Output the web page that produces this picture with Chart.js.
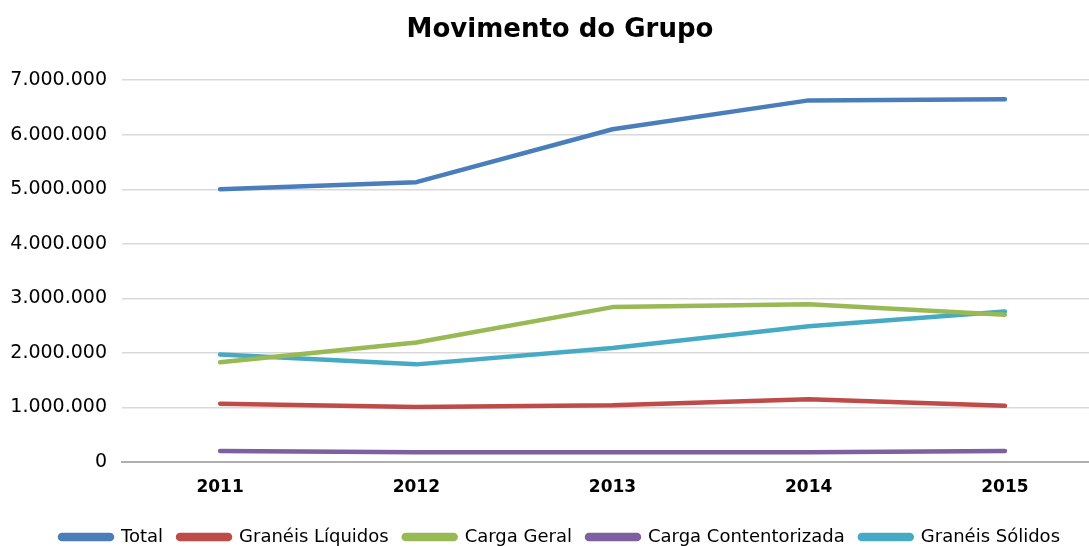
<!DOCTYPE html>
<html>
<head>
<meta charset="utf-8">
<script src="https://cdn.jsdelivr.net/npm/chart.js@4/dist/chart.umd.min.js"></script>
<style>
    html, body { margin: 0; padding: 0; background: #fff; overflow: hidden; }
    #wrap { width: 1120px; height: 556px; }
</style>
</head>
<body>
<div id="wrap"><canvas id="movChart"></canvas></div>
<script>
// Movimento do Grupo
const years = ['2011', '2012', '2013', '2014', '2015'];
const total = [5000000, 5130000, 6100000, 6630000, 6650000];
const graneisLiquidos = [1070000, 1010000, 1040000, 1150000, 1030000];
const cargaGeral = [1830000, 2190000, 2840000, 2890000, 2700000];
const cargaContentorizada = [200000, 180000, 180000, 180000, 200000];
const graneisSolidos = [1970000, 1790000, 2090000, 2490000, 2760000];
const yTicks = [0, 1000000, 2000000, 3000000, 4000000, 5000000, 6000000, 7000000];

function fmtThousands(v) {
    return String(v).replace(/\B(?=(\d{3})+(?!\d))/g, '.');
}

function lineSet(label, data, color) {
    return {
        label: label,
        data: data,
        borderColor: color,
        backgroundColor: color,
        borderWidth: 4.5,
        borderCapStyle: 'round',
        borderJoinStyle: 'round',
        pointRadius: 0,
        tension: 0,
        fill: false
    };
}

Chart.defaults.font.family = "'DejaVu Sans', sans-serif";
Chart.defaults.color = '#000';

new Chart(document.getElementById('movChart'), {
    type: 'line',
    data: {
        labels: years,
        datasets: [
            lineSet('Total', total, '#4a7ebb'),
            lineSet('Granéis Líquidos', graneisLiquidos, '#be4b48'),
            lineSet('Carga Geral', cargaGeral, '#98b954'),
            lineSet('Carga Contentorizada', cargaContentorizada, '#7d60a0'),
            lineSet('Granéis Sólidos', graneisSolidos, '#46aac5')
        ]
    },
    options: {
        responsive: true,
        maintainAspectRatio: false,
        animation: false,
        layout: { padding: 0 },
        scales: {
            x: {
                offset: true,
                grid: { display: false, drawTicks: false },
                border: { display: true, color: '#b0b0b0', width: 2 },
                ticks: { padding: 15, font: { size: 17, weight: 'bold' } },
                afterFit: function(scale) { scale.height = 51; }
            },
            y: {
                min: 0,
                max: 7000000,
                afterBuildTicks: function(scale) {
                    scale.ticks = yTicks.map(v => ({ value: v }));
                },
                grid: {
                    drawTicks: false,
                    color: ctx => ctx.tick && ctx.tick.value === 0 ? '#b0b0b0' : '#d9d9d9',
                    lineWidth: ctx => ctx.tick && ctx.tick.value === 0 ? 2 : 1.5
                },
                border: { display: false },
                ticks: {
                    padding: 15,
                    font: { size: 19 },
                    callback: v => fmtThousands(v)
                },
                afterFit: function(scale) { scale.width = 122; }
            },
            yRight: {
                position: 'right',
                display: true,
                grid: { display: false, drawTicks: false },
                border: { display: false },
                ticks: { display: false },
                afterFit: function(scale) { scale.width = 17; }
            }
        },
        plugins: {
            title: {
                display: true,
                text: 'Movimento do Grupo',
                color: '#000',
                font: { size: 26, weight: 'bold' },
                padding: { top: 15, bottom: 34 }
            },
            legend: {
                position: 'bottom',
                labels: {
                    boxWidth: 52,
                    boxHeight: 4,
                    padding: 15,
                    color: '#000',
                    font: { size: 18 },
                    useBorderRadius: true,
                    borderRadius: 2
                }
            },
            tooltip: { enabled: false }
        }
    }
});
</script>
</body>
</html>
